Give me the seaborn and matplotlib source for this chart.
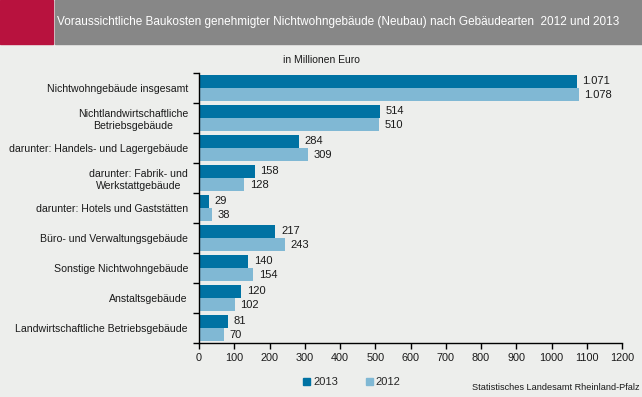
import matplotlib
matplotlib.use('Agg')
import matplotlib.pyplot as plt
import matplotlib.patches as mpatches
import seaborn as sns
import pandas as pd

categories = ['Nichtwohngebäude insgesamt',
              'Nichtlandwirtschaftliche\nBetriebsgebäude',
              'darunter: Handels- und Lagergebäude',
              'darunter: Fabrik- und\nWerkstattgebäude',
              'darunter: Hotels und Gaststätten',
              'Büro- und Verwaltungsgebäude',
              'Sonstige Nichtwohngebäude',
              'Anstaltsgebäude',
              'Landwirtschaftliche Betriebsgebäude']
values_2013 = [1071, 514, 284, 158, 29, 217, 140, 120, 81]
values_2012 = [1078, 510, 309, 128, 38, 243, 154, 102, 70]
years = ['2013', '2012']
x_ticks = list(range(0, 1300, 100))

bg = '#EDEEEC'
col_2013 = '#0072A3'
col_2012 = '#80B8D4'
txt = '#1a1a1a'

df = pd.DataFrame({
    'Kategorie': categories * 2,
    'Wert': values_2013 + values_2012,
    'Jahr': ['2013'] * len(categories) + ['2012'] * len(categories),
})

sns.set_style('white')
plt.rcParams['font.family'] = ['Liberation Sans', 'DejaVu Sans']

fig = plt.figure(figsize=(6.42, 3.97), dpi=100, facecolor=bg)
ax = fig.add_axes([199 / 642, 1 - 343 / 397, 423 / 642, 270 / 397])
ax.set_facecolor(bg)

sns.barplot(data=df, y='Kategorie', x='Wert', hue='Jahr', order=categories,
            hue_order=years, palette=[col_2013, col_2012], orient='h',
            width=0.87, ax=ax, legend=False, saturation=1, linewidth=0)

def fmt_de(v):
    return '{:,.0f}'.format(v).replace(',', '.')

for cont in ax.containers:
    ax.bar_label(cont, labels=[fmt_de(b.get_width()) for b in cont],
                 padding=4, fontsize=8, color=txt)

ax.set_xlim(0, 1200)
ax.set_ylim(len(categories) - 0.5, -0.5)
ax.set_xticks(x_ticks)
ax.set_xticklabels([str(t) for t in x_ticks], fontsize=7.8, color=txt)
ax.set_yticks(range(len(categories)))
ax.set_yticklabels(categories, fontsize=7.6, color=txt, multialignment='center')
ax.set_yticks([i - 0.5 for i in range(len(categories) + 1)], minor=True)
ax.tick_params(axis='y', which='major', length=0, pad=8)
ax.tick_params(axis='y', which='minor', length=4, width=1, color='black', direction='out', left=True)
ax.tick_params(axis='x', length=4, width=1, color='black', direction='out', bottom=True, pad=3)
ax.set_xlabel('')
ax.set_ylabel('')
for s in ['top', 'right']:
    ax.spines[s].set_visible(False)
for s in ['left', 'bottom']:
    ax.spines[s].set_color('black')
    ax.spines[s].set_linewidth(1)

# header band
fig.patches.append(mpatches.Rectangle((0, 1 - 44 / 397), 53 / 642, 44 / 397,
                                      transform=fig.transFigure, color='#B8123E', zorder=0))
fig.patches.append(mpatches.Rectangle((55 / 642, 1 - 44 / 397), 1 - 55 / 642, 44 / 397,
                                      transform=fig.transFigure, color='#878787', zorder=0))
fig.text(57 / 642, 1 - 22 / 397,
         'Voraussichtliche Baukosten genehmigter Nichtwohngebäude (Neubau) nach Gebäudearten  2012 und 2013',
         color='white', fontsize=8.5, va='center', ha='left')
fig.text(321 / 642, 1 - 60 / 397, 'in Millionen Euro', fontsize=7.5, ha='center', va='center',
         color=txt)

handles = [mpatches.Patch(color=col_2013, label='2013'),
           mpatches.Patch(color=col_2012, label='2012')]
fig.legend(handles=handles, loc='center', bbox_to_anchor=(352 / 642, 1 - 382 / 397), ncol=2,
           frameon=False, fontsize=8, handlelength=0.6, handleheight=0.6,
           handletextpad=0.3, columnspacing=2.5)
fig.text(640 / 642, 1 - 388 / 397, 'Statistisches Landesamt Rheinland-Pfalz', fontsize=6.6,
         ha='right', va='center', color=txt)

fig.savefig('out.png', dpi=100, facecolor=bg)
